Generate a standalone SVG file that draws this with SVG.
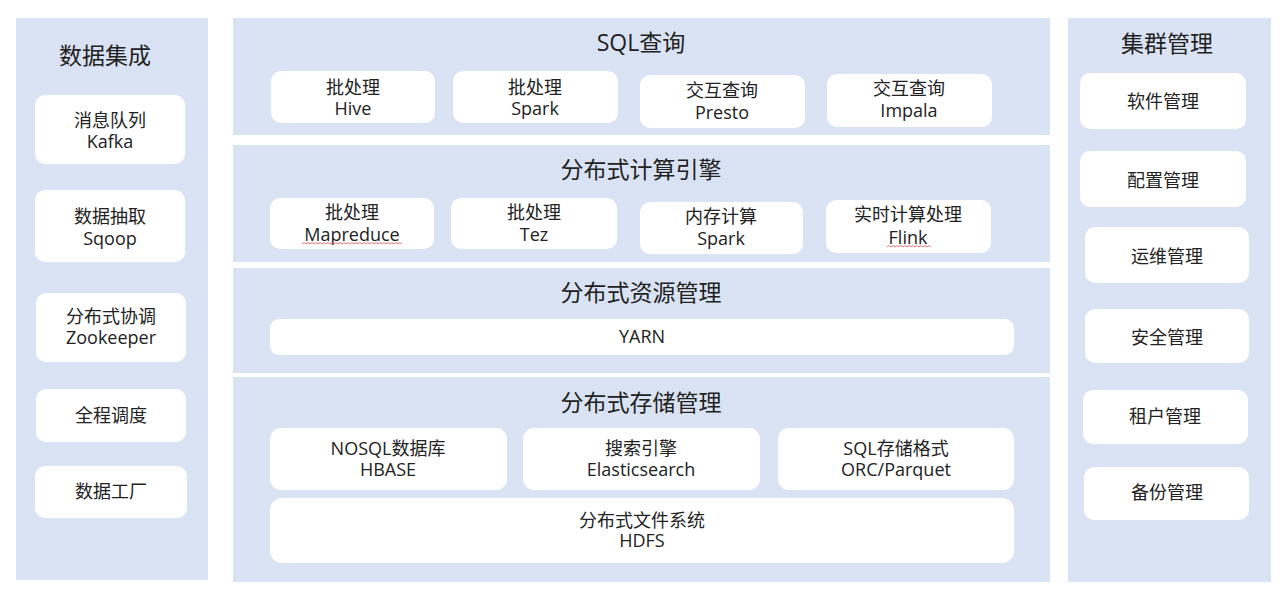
<svg xmlns="http://www.w3.org/2000/svg" width="1280" height="594" viewBox="0 0 1280 594">
<style>
.panel{fill:#dae3f3}
.box{fill:#ffffff}
text{font-family:"Open Sans","Noto Sans CJK SC",sans-serif;fill:#222222;text-anchor:middle;dominant-baseline:central}
.t{font-size:23px}
.b{font-size:18px}
.sq{fill:none;stroke:#e05050;stroke-width:0.8}
</style>
<rect width="1280" height="594" fill="#ffffff"/>

<g id="data-integration">
<rect class="panel" x="16" y="18" width="192" height="562"/>
<text class="t" x="105" y="55">数据集成</text>
</g>
<g id="kafka"><rect class="box" x="35" y="95" width="150" height="69" rx="10"/><text class="b"><tspan x="110" y="120">消息队列</tspan><tspan x="110" y="141">Kafka</tspan></text></g>
<g id="sqoop"><rect class="box" x="35" y="190" width="150" height="72" rx="10"/><text class="b"><tspan x="110" y="216">数据抽取</tspan><tspan x="110" y="238">Sqoop</tspan></text></g>
<g id="zookeeper"><rect class="box" x="36" y="293" width="150" height="69" rx="10"/><text class="b"><tspan x="111" y="316">分布式协调</tspan><tspan x="111" y="337">Zookeeper</tspan></text></g>
<g id="schedule"><rect class="box" x="36" y="389" width="150" height="53" rx="10"/><text class="b" x="111" y="415">全程调度</text></g>
<g id="factory"><rect class="box" x="35" y="466" width="152" height="52" rx="10"/><text class="b" x="111" y="491">数据工厂</text></g>

<g id="sql-query">
<rect class="panel" x="233" y="18" width="817" height="117"/>
<text class="t" x="641" y="42">SQL查询</text>
</g>
<g id="hive"><rect class="box" x="271" y="71" width="164" height="52" rx="10"/><text class="b"><tspan x="353" y="87">批处理</tspan><tspan x="353" y="108">Hive</tspan></text></g>
<g id="spark-sql"><rect class="box" x="453" y="71" width="165" height="52" rx="10"/><text class="b"><tspan x="535" y="87">批处理</tspan><tspan x="535" y="108">Spark</tspan></text></g>
<g id="presto"><rect class="box" x="640" y="75" width="165" height="53" rx="10"/><text class="b"><tspan x="722" y="90">交互查询</tspan><tspan x="722" y="112">Presto</tspan></text></g>
<g id="impala"><rect class="box" x="827" y="74" width="165" height="53" rx="10"/><text class="b"><tspan x="909" y="88">交互查询</tspan><tspan x="909" y="110">Impala</tspan></text></g>

<g id="compute-engine">
<rect class="panel" x="233" y="145" width="817" height="117"/>
<text class="t" x="641" y="169">分布式计算引擎</text>
</g>
<g id="mapreduce"><rect class="box" x="270" y="198" width="164" height="51" rx="10"/><text class="b"><tspan x="352" y="212">批处理</tspan><tspan x="352" y="234">Mapreduce</tspan></text><path class="sq" d="M302 244 l2 -1.5 l2 1.5 l2 -1.5 l2 1.5 l2 -1.5 l2 1.5 l2 -1.5 l2 1.5 l2 -1.5 l2 1.5 l2 -1.5 l2 1.5 l2 -1.5 l2 1.5 l2 -1.5 l2 1.5 l2 -1.5 l2 1.5 l2 -1.5 l2 1.5 l2 -1.5 l2 1.5 l2 -1.5 l2 1.5 l2 -1.5 l2 1.5 l2 -1.5 l2 1.5 l2 -1.5 l2 1.5 l2 -1.5 l2 1.5 l2 -1.5 l2 1.5 l2 -1.5 l2 1.5 l2 -1.5 l2 1.5 l2 -1.5 l2 1.5 l2 -1.5 l2 1.5 l2 -1.5 l2 1.5 l2 -1.5 l2 1.5 l2 -1.5 l2 1.5 l2 -1.5 l2 1.5"/></g>
<g id="tez"><rect class="box" x="451" y="198" width="166" height="51" rx="10"/><text class="b"><tspan x="534" y="212">批处理</tspan><tspan x="534" y="234">Tez</tspan></text></g>
<g id="spark-mem"><rect class="box" x="640" y="202" width="163" height="52" rx="10"/><text class="b"><tspan x="721" y="216">内存计算</tspan><tspan x="721" y="238">Spark</tspan></text></g>
<g id="flink"><rect class="box" x="826" y="200" width="165" height="53" rx="10"/><text class="b"><tspan x="908" y="214">实时计算处理</tspan><tspan x="908" y="237">Flink</tspan></text><path class="sq" d="M887 247 l2 -1.5 l2 1.5 l2 -1.5 l2 1.5 l2 -1.5 l2 1.5 l2 -1.5 l2 1.5 l2 -1.5 l2 1.5 l2 -1.5 l2 1.5 l2 -1.5 l2 1.5 l2 -1.5 l2 1.5 l2 -1.5 l2 1.5 l2 -1.5 l2 1.5 l2 -1.5 l2 1.5"/></g>

<g id="resource-mgmt">
<rect class="panel" x="233" y="268" width="817" height="105"/>
<text class="t" x="641" y="292">分布式资源管理</text>
</g>
<g id="yarn"><rect class="box" x="270" y="319" width="744" height="36" rx="9"/><text class="b" x="642" y="336">YARN</text></g>

<g id="storage-mgmt">
<rect class="panel" x="233" y="377" width="817" height="205"/>
<text class="t" x="641" y="402">分布式存储管理</text>
</g>
<g id="hbase"><rect class="box" x="270" y="428" width="237" height="62" rx="11"/><text class="b"><tspan x="388" y="448">NOSQL数据库</tspan><tspan x="388" y="469">HBASE</tspan></text></g>
<g id="elasticsearch"><rect class="box" x="523" y="428" width="237" height="62" rx="11"/><text class="b"><tspan x="641" y="448">搜索引擎</tspan><tspan x="641" y="469">Elasticsearch</tspan></text></g>
<g id="orc-parquet"><rect class="box" x="778" y="428" width="236" height="62" rx="11"/><text class="b"><tspan x="896" y="448">SQL存储格式</tspan><tspan x="896" y="469">ORC/Parquet</tspan></text></g>
<g id="hdfs"><rect class="box" x="270" y="498" width="744" height="65" rx="12"/><text class="b"><tspan x="642" y="520">分布式文件系统</tspan><tspan x="642" y="540">HDFS</tspan></text></g>

<g id="cluster-mgmt">
<rect class="panel" x="1068" y="18" width="203" height="564"/>
<text class="t" x="1167" y="43">集群管理</text>
</g>
<g id="software"><rect class="box" x="1080" y="73" width="166" height="56" rx="10"/><text class="b" x="1163" y="101">软件管理</text></g>
<g id="config"><rect class="box" x="1080" y="151" width="166" height="56" rx="10"/><text class="b" x="1163" y="180">配置管理</text></g>
<g id="ops"><rect class="box" x="1085" y="227" width="164" height="56" rx="10"/><text class="b" x="1167" y="256">运维管理</text></g>
<g id="security"><rect class="box" x="1085" y="309" width="164" height="54" rx="10"/><text class="b" x="1167" y="337">安全管理</text></g>
<g id="tenant"><rect class="box" x="1083" y="390" width="165" height="54" rx="10"/><text class="b" x="1165" y="416">租户管理</text></g>
<g id="backup"><rect class="box" x="1084" y="467" width="165" height="53" rx="10"/><text class="b" x="1167" y="492">备份管理</text></g>

<g id="connectors"></g>
</svg>
